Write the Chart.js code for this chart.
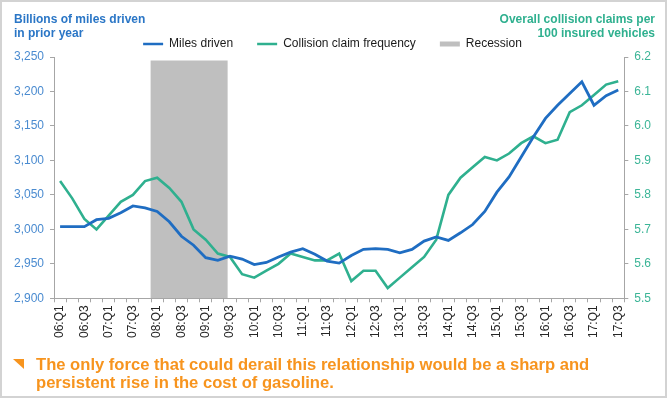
<!DOCTYPE html>
<html>
<head>
<meta charset="utf-8">
<script src="https://cdn.jsdelivr.net/npm/chart.js@4.4.1/dist/chart.umd.min.js"></script>
<style>
  html, body { margin: 0; padding: 0; background: #ffffff; }
  #wrap { position: relative; width: 667px; height: 398px; overflow: hidden; font-family: "Liberation Sans", Arial, sans-serif; }
  #c { position: absolute; left: 0; top: 0; }
  #frame { position: absolute; left: 0; top: 0; width: 667px; height: 398px; box-sizing: border-box; border: 2px solid #d3d3d3; pointer-events: none; }
  .ttl { position: absolute; font-weight: bold; font-size: 12px; line-height: 14px; }
  #tl { left: 14px; top: 12px; color: #2a76c6; }
  #tr { right: 12px; top: 12px; color: #2fb08f; text-align: right; }
  #tri { position: absolute; left: 13px; top: 359px; width: 0; height: 0; border-top: 10px solid #f7941e; border-left: 11px solid transparent; }
  #cap { position: absolute; left: 36px; top: 356px; font-weight: bold; font-size: 16.6px; line-height: 18px; color: #f7941e; }
</style>
</head>
<body>
<div id="wrap">
  <canvas id="c" width="667" height="398"></canvas>
  <div class="ttl" id="tl">Billions of miles driven<br>in prior year</div>
  <div class="ttl" id="tr">Overall collision claims per<br>100 insured vehicles</div>
  <div id="tri"></div>
  <div id="cap">The only force that could derail this relationship would be a sharp and<br>persistent rise in the cost of gasoline.</div>
  <div id="frame"></div>
</div>
<script>
// ---- data ----
const quarters = [
  "06:Q1","06:Q2","06:Q3","06:Q4","07:Q1","07:Q2","07:Q3","07:Q4",
  "08:Q1","08:Q2","08:Q3","08:Q4","09:Q1","09:Q2","09:Q3","09:Q4",
  "10:Q1","10:Q2","10:Q3","10:Q4","11:Q1","11:Q2","11:Q3","11:Q4",
  "12:Q1","12:Q2","12:Q3","12:Q4","13:Q1","13:Q2","13:Q3","13:Q4",
  "14:Q1","14:Q2","14:Q3","14:Q4","15:Q1","15:Q2","15:Q3","15:Q4",
  "16:Q1","16:Q2","16:Q3","16:Q4","17:Q1","17:Q2","17:Q3"
];
const milesDriven = [
  3004, 3004, 3004, 3014, 3016, 3024, 3034, 3031,
  3026, 3011, 2990, 2977, 2959, 2955, 2961, 2957,
  2949, 2952, 2960, 2967, 2972, 2964, 2954, 2951,
  2962, 2971, 2972, 2971, 2966, 2971, 2983, 2989,
  2984, 2995, 3007, 3026, 3054, 3076, 3105, 3134,
  3161, 3180, 3197, 3214, 3180, 3194, 3202
];
const claimFrequency = [
  5.84, 5.79, 5.73, 5.70, 5.74, 5.78, 5.80, 5.84,
  5.85, 5.82, 5.78, 5.70, 5.67, 5.63, 5.62, 5.57,
  5.56, 5.58, 5.60, 5.63, 5.62, 5.61, 5.61, 5.63,
  5.55, 5.58, 5.58, 5.53, 5.56, 5.59, 5.62, 5.67,
  5.80, 5.85, 5.88, 5.91, 5.90, 5.92, 5.95, 5.97,
  5.95, 5.96, 6.04, 6.06, 6.09, 6.12, 6.13
];
// recession span in quarter-index units, and its height on the left axis
const recessionSpan = [7.44, 13.82];
const recessionTop = 3245;
const leftTicks = [2900, 3250, 50];
const rightTicks = [5.5, 6.2, 0.1];
const legendNames = ["Miles driven", "Collision claim frequency", "Recession"];

const BLUE = "#1f6dc2", GREEN = "#2fb08f", GRAY = "#bfbfbf";
const AXIS = "#a6a6a6";
const FONT = "'Liberation Sans', Arial, sans-serif";

new Chart(document.getElementById("c"), {
  type: "line",
  data: {
    labels: quarters,
    datasets: [
      { label: legendNames[0], data: milesDriven, xAxisID: "x", yAxisID: "y",
        borderColor: BLUE, backgroundColor: BLUE, borderWidth: 2.8, pointRadius: 0, tension: 0, order: 1 },
      { label: legendNames[1], data: claimFrequency, xAxisID: "x", yAxisID: "y2",
        borderColor: GREEN, backgroundColor: GREEN, borderWidth: 2.6, pointRadius: 0, tension: 0, order: 2 },
      { label: legendNames[2], data: recessionSpan.map(v => ({ x: v, y: recessionTop })),
        xAxisID: "xr", yAxisID: "y", borderColor: GRAY, backgroundColor: GRAY, borderWidth: 0,
        pointRadius: 0, fill: "start", order: 5 }
    ]
  },
  options: {
    responsive: false,
    animation: false,
    devicePixelRatio: 1,
    layout: { padding: { top: 14, left: 8, right: 10, bottom: 57 } },
    plugins: {
      tooltip: { enabled: false },
      legend: {
        display: true,
        position: "top",
        maxHeight: 43,
        labels: {
          font: { family: FONT, size: 12 },
          color: "#1a1a1a",
          padding: 24,
          usePointStyle: true,
          pointStyleWidth: 20,
          boxHeight: 5,
          generateLabels: () => [
            { text: legendNames[0], pointStyle: "line", strokeStyle: BLUE, fillStyle: BLUE, lineWidth: 2.5, datasetIndex: 0, fontColor: "#1a1a1a" },
            { text: legendNames[1], pointStyle: "line", strokeStyle: GREEN, fillStyle: GREEN, lineWidth: 2.5, datasetIndex: 1, fontColor: "#1a1a1a" },
            { text: legendNames[2], pointStyle: "rect", strokeStyle: GRAY, fillStyle: GRAY, lineWidth: 0, datasetIndex: 2, fontColor: "#1a1a1a" }
          ]
        }
      }
    },
    scales: {
      x: {
        type: "category",
        offset: true,
        grid: { display: true, offset: true, drawOnChartArea: false, tickLength: 4, color: AXIS },
        border: { display: true, color: AXIS, width: 1 },
        ticks: {
          autoSkip: false, minRotation: 90, maxRotation: 90, padding: 3,
          color: "#262626", font: { family: FONT, size: 12 },
          callback: function (v, i) { return i % 2 === 0 ? quarters[i] : ""; }
        }
      },
      xr: { type: "linear", display: false, min: -0.5, max: quarters.length - 0.5, offset: false },
      y: {
        type: "linear", position: "left",
        min: leftTicks[0], max: leftTicks[1],
        grid: { display: true, drawOnChartArea: false, tickLength: 4, color: AXIS },
        border: { display: true, color: AXIS, width: 1 },
        ticks: { stepSize: leftTicks[2], padding: 6, color: "#4a8bd0", font: { family: FONT, size: 12 },
          callback: v => Number(v).toLocaleString("en-US") }
      },
      y2: {
        type: "linear", position: "right",
        min: rightTicks[0], max: rightTicks[1],
        grid: { display: true, drawOnChartArea: false, tickLength: 4, color: AXIS },
        border: { display: true, color: AXIS, width: 1 },
        ticks: { stepSize: rightTicks[2], padding: 6, color: "#3cb597", font: { family: FONT, size: 12 },
          callback: v => Number(v).toFixed(1) }
      }
    }
  }
});
</script>
</body>
</html>
